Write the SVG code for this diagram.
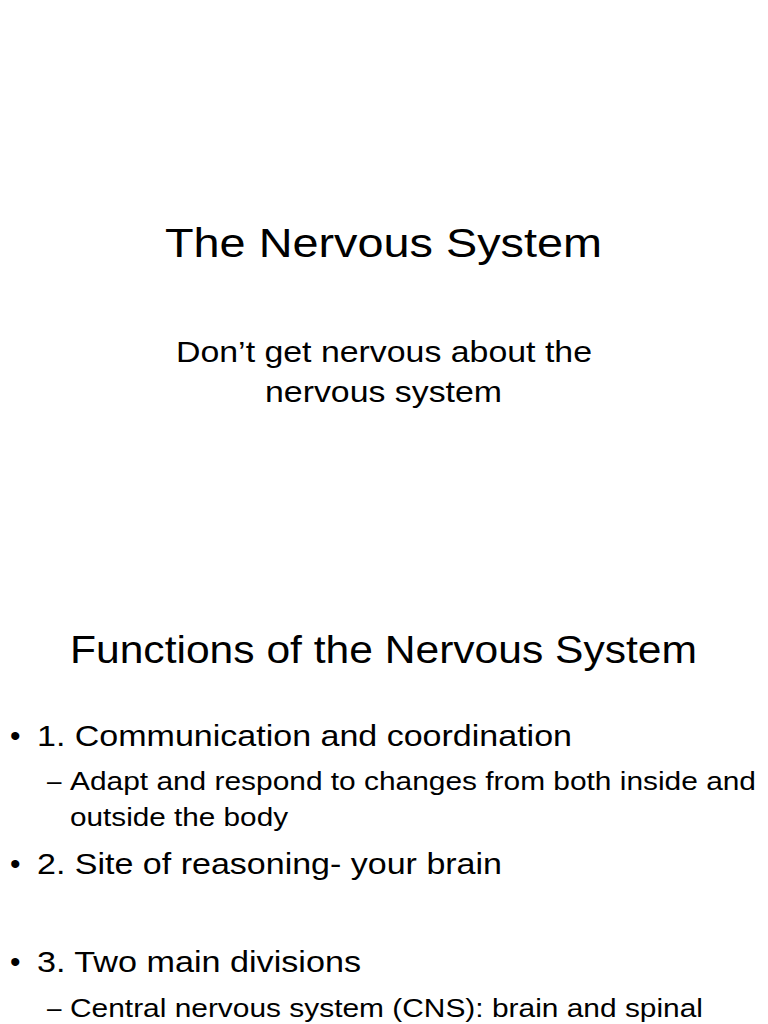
<svg xmlns="http://www.w3.org/2000/svg" width="768" height="1024" viewBox="0 0 768 1024">
<style>
text{font-family:"Liberation Sans",Arial,sans-serif;fill:#000}
</style>
<rect width="768" height="1024" fill="#fff"/>
<text x="165" y="257" font-size="41" textLength="437" lengthAdjust="spacingAndGlyphs">The Nervous System</text>
<text x="176" y="362" font-size="29" textLength="416" lengthAdjust="spacingAndGlyphs">Don’t get nervous about the</text>
<text x="265" y="402" font-size="29" textLength="237" lengthAdjust="spacingAndGlyphs">nervous system</text>
<text x="70" y="663" font-size="39" textLength="627" lengthAdjust="spacingAndGlyphs">Functions of the Nervous System</text>
<text x="10" y="746" font-size="30">•</text>
<text x="37" y="746" font-size="30" textLength="535" lengthAdjust="spacingAndGlyphs">1. Communication and coordination</text>
<text x="47" y="790" font-size="26">–</text>
<text x="70" y="790" font-size="26" textLength="686" lengthAdjust="spacingAndGlyphs">Adapt and respond to changes from both inside and</text>
<text x="70" y="826" font-size="26" textLength="218" lengthAdjust="spacingAndGlyphs">outside the body</text>
<text x="10" y="874" font-size="30">•</text>
<text x="37" y="874" font-size="30" textLength="465" lengthAdjust="spacingAndGlyphs">2. Site of reasoning- your brain</text>
<text x="10" y="972" font-size="30">•</text>
<text x="37" y="972" font-size="30" textLength="324" lengthAdjust="spacingAndGlyphs">3. Two main divisions</text>
<text x="47" y="1017" font-size="26">–</text>
<text x="70" y="1017" font-size="26" textLength="633" lengthAdjust="spacingAndGlyphs">Central nervous system (CNS): brain and spinal</text>
</svg>
